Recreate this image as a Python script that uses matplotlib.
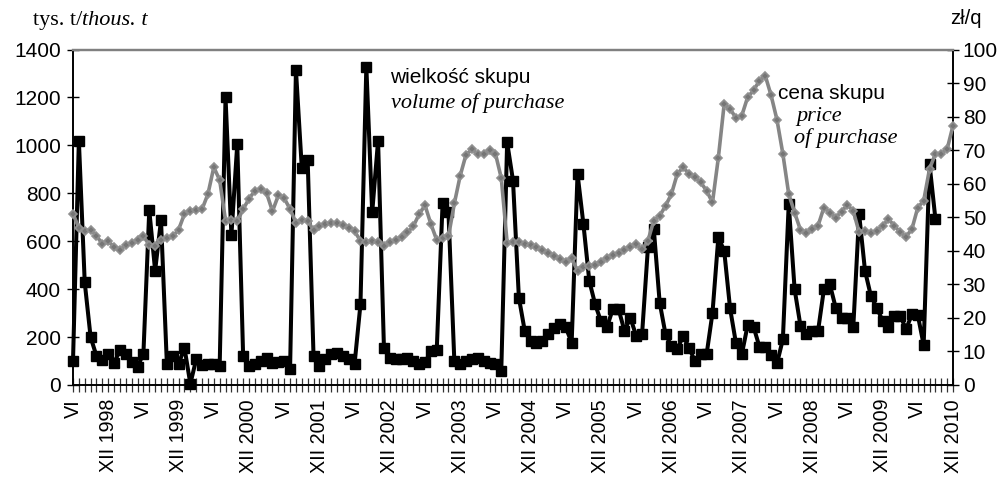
import numpy as np
import matplotlib
matplotlib.use('Agg')
import matplotlib.pyplot as plt

# monthly data, VI 1998 .. XII 2010
volume = [100, 1020, 428, 200, 121, 105, 128, 90, 147, 128, 98, 77, 130,
          730, 477, 688, 88, 121, 88, 155, 5, 107, 84, 89, 89, 79,
          1200, 625, 1006, 121, 79, 86, 100, 114, 93, 96, 100, 65,
          1315, 905, 940, 121, 79, 107, 128, 135, 121, 107, 89, 337,
          1329, 720, 1020, 156, 114, 107, 107, 114, 100, 86, 95, 140, 145,
          760, 720, 100, 89, 100, 107, 114, 100, 93, 86, 58,
          1013, 853, 365, 226, 184, 177, 184, 212, 237, 254, 240, 177,
          881, 672, 435, 337, 265, 240, 316, 316, 226, 281, 205, 212,
          574, 651, 344, 212, 163, 149, 205, 156, 100, 128, 128, 300,
          616, 560, 320, 175, 128, 250, 243, 160, 160, 125, 90, 191,
          755, 400, 247, 212, 226, 226, 400, 421, 323, 281, 281, 240,
          713, 477, 372, 323, 268, 240, 289, 289, 233, 295, 292, 167,
          922, 693]

price = [51.1, 46.8, 46.0, 46.2, 44.5, 42.0, 42.8, 41.2, 40.3, 41.7, 42.2, 43.2,
         44.3, 41.8, 41.5, 43.2, 43.8, 44.3, 46.3, 51.0, 51.9, 52.1, 52.4, 56.9,
         64.9, 61.1, 49.0, 49.2, 48.8, 52.4, 55.5, 57.9, 58.4, 57.2, 51.8, 56.5,
         55.7, 52.4, 48.4, 49.2, 49.0, 46.1, 47.3, 47.9, 48.4, 48.3, 47.7, 46.9,
         45.8, 43.0, 42.6, 42.8, 42.6, 41.5, 42.5, 43.2, 44.0, 45.5, 47.3, 50.9,
         53.6, 48.0, 43.2, 43.8, 44.3, 54.1, 62.4, 68.7, 70.2, 68.9, 68.9, 70.0,
         69.0, 61.7, 42.4, 42.5, 42.5, 41.9, 41.6, 41.0, 40.2, 39.2, 38.5, 37.5,
         36.8, 37.8, 34.0, 35.2, 35.5, 35.8, 36.8, 37.8, 38.7, 39.4, 40.2, 41.2,
         42.0, 40.4, 43.0, 49.0, 50.4, 53.4, 56.9, 62.9, 64.9, 62.9, 61.9, 60.4,
         57.9, 54.4, 67.7, 83.8, 82.3, 79.6, 80.3, 85.8, 87.8, 90.7, 92.2, 86.3,
         79.0, 68.9, 56.9, 51.4, 46.2, 45.2, 46.5, 47.5, 52.9, 51.4, 49.9, 51.7,
         53.7, 51.9, 45.5, 46.0, 45.2, 46.0, 47.5, 49.4, 47.5, 45.5, 44.2, 46.5,
         52.9, 54.9, 64.4, 68.9, 69.0, 70.3, 77.3]

month_labels = ['VI', 'XII 1998', 'VI', 'XII 1999', 'VI', 'XII 2000', 'VI', 'XII 2001',
                'VI', 'XII 2002', 'VI', 'XII 2003', 'VI', 'XII 2004', 'VI', 'XII 2005',
                'VI', 'XII 2006', 'VI', 'XII 2007', 'VI', 'XII 2008', 'VI', 'XII 2009',
                'VI', 'XII 2010']

plt.rcParams['font.family'] = 'Liberation Sans'

W, H = 1007, 479
fig = plt.figure(figsize=(W / 100, H / 100), dpi=100)
ax = fig.add_axes([73 / W, 1 - 385 / H, (953 - 73) / W, (385 - 49.5) / H])
ax2 = ax.twinx()

x = np.arange(len(price))
ax.plot(x[:len(volume)], volume, color='black', lw=2.9, marker='s', ms=6.8,
        clip_on=False, zorder=3)
ax2.plot(x, price, color='#858585', lw=2.6, marker='D', ms=4.2,
         mfc='#767676', mec='#909090', mew=1.2, clip_on=False, zorder=3)

ax.set_xlim(0, len(price) - 1)
ax.set_ylim(0, 1400)
ax.set_yticks(range(0, 1401, 200))
ax2.set_ylim(0, 100)
ax2.set_yticks(range(0, 101, 10))

ax.set_xticks(np.arange(0, len(price), 6))
ax.set_xticklabels(month_labels, rotation=90, va='top', ha='center')
ax.set_xticks(np.arange(len(price)), minor=True)

ax.tick_params(axis='x', which='both', direction='inout', length=10, width=0.9,
               color='#333333', pad=5, labelsize=14.2)
ax.tick_params(axis='y', direction='inout', length=9, width=1.0, pad=4.3, labelsize=15)
ax2.tick_params(axis='y', direction='inout', length=9, width=1.0, pad=2.5, labelsize=15)

for a in (ax, ax2):
    a.spines['top'].set_color('#808080')
    a.spines['top'].set_linewidth(1.6)
    for s in ('left', 'right', 'bottom'):
        a.spines[s].set_color('black')
        a.spines[s].set_linewidth(1.2)


def px(xp, yp):
    return xp / W, 1 - yp / H


fig.canvas.draw()
r = fig.canvas.get_renderer()

t1 = fig.text(*px(33, 25), 'tys. t/', family='Liberation Serif', fontsize=16, va='baseline')
bb = t1.get_window_extent(renderer=r)
fig.text(bb.x1 / W, 1 - 25 / H, 'thous. t', family='Liberation Serif', style='italic',
         fontsize=16, va='baseline')

fig.text(*px(950, 24), 'zł/q', fontsize=14.5, va='baseline')

fig.text(*px(390, 83), 'wielkość skupu', fontsize=15, va='baseline')
fig.text(*px(391, 108), 'volume of purchase', family='Liberation Serif', style='italic',
         fontsize=16, va='baseline')

fig.text(*px(778, 99), 'cena skupu', fontsize=15, va='baseline')
fig.text(*px(796, 121), 'price', family='Liberation Serif', style='italic',
         fontsize=16, va='baseline')
fig.text(*px(794, 143), 'of purchase', family='Liberation Serif', style='italic',
         fontsize=16, va='baseline')

fig.savefig('out.png', dpi=100)
